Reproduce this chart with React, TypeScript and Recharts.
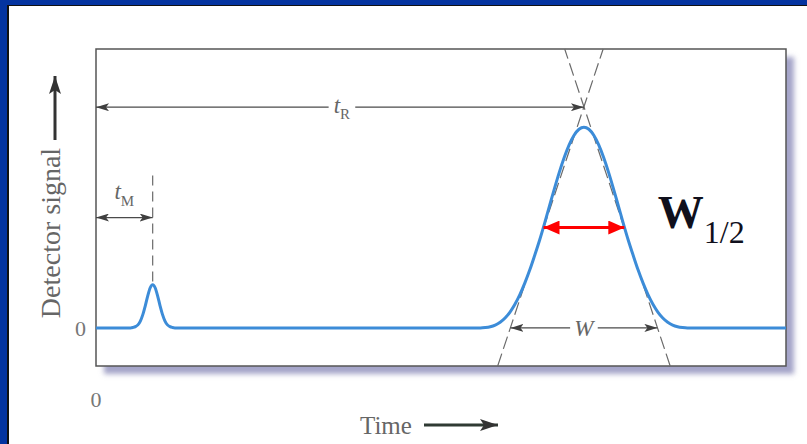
import { ComposedChart, Line, XAxis, YAxis, ReferenceLine, ReferenceDot, ReferenceArea } from 'recharts'

const serif = '"Liberation Serif", "Times New Roman", serif'

// detector trace: time (min) against signal (% of main peak)
const times = [
  0, 0.7, 0.75, 0.8, 0.85, 0.9, 0.95, 1.0, 1.05, 1.1, 1.15, 1.2, 1.25, 1.3, 1.35, 1.4, 1.45, 1.5, 1.55, 1.6,
  7.8, 7.9, 8.0, 8.1, 8.2, 8.3, 8.4, 8.5, 8.6, 8.7, 8.8, 8.9, 9.0, 9.1, 9.2, 9.3, 9.4, 9.5, 9.6, 9.7, 9.8, 9.9,
  10.0, 10.1, 10.2, 10.3, 10.4, 10.5, 10.6, 10.7, 10.8, 10.9, 11.0, 11.1, 11.2, 11.3, 11.4, 11.5, 11.6, 11.7, 11.8, 11.9, 12.0, 14,
]
const signal = [
  0, 0, 0.2, 0.6, 1.5, 3.4, 6.6, 11.0, 16.0, 20.0, 21.5, 20.0, 16.0, 11.0, 6.6, 3.4, 1.5, 0.6, 0.2, 0,
  0, 0.2, 0.6, 1.4, 2.8, 4.9, 7.9, 11.8, 16.6, 22.3, 28.8, 36.1, 43.7, 52.0, 60.7, 69.3, 77.5, 84.9, 91.2, 96.0, 99.0, 100,
  99.0, 96.0, 91.2, 84.9, 77.5, 69.3, 60.7, 52.0, 43.7, 36.1, 28.8, 22.3, 16.6, 11.8, 7.9, 4.9, 2.8, 1.4, 0.6, 0.2, 0, 0,
]
const trace = times.map((t, i) => ({ t, s: signal[i] }))

const timeDomain = [0, 14]
const signalDomain = [-19, 139]
const timeTicks = [0]
const signalTicks = [0]

// dead time and retention time
const tM = 1.15
const tMPeak = 21.5
const tMLevel = 55
const tMGuideTop = 76
const tR = 9.9
const tRLevel = 110
const tRGap = [4.72, 5.26]

// half-height width of the main peak
const halfHeight = 50
const halfWidth = [9.08, 10.72]

// tangents through the inflection points, and the base width they cut off
const tangentA = [{ x: 8.15, y: -19 }, { x: 10.29, y: 139 }]
const tangentB = [{ x: 11.65, y: -19 }, { x: 9.51, y: 139 }]
const baseWidth = [8.41, 11.39]
const baseGap = [9.62, 10.18]

const grey = '#4a4a4a'

const arrow = (start: string | undefined, end: string | undefined, color: string, width: number) =>
  (p: any) => (
    <line
      x1={p.x1}
      y1={p.y1}
      x2={p.x2}
      y2={p.y2}
      stroke={color}
      strokeWidth={width}
      markerStart={start ? `url(#${start})` : undefined}
      markerEnd={end ? `url(#${end})` : undefined}
    />
  )

const TRLabel = ({ cx, cy }: any) => (
  <text x={cx} y={cy + 6} textAnchor="middle" fontFamily={serif} fill="#666">
    <tspan fontStyle="italic" fontSize={23}>t</tspan>
    <tspan fontSize={15} dy={6}>R</tspan>
  </text>
)

const TMLabel = ({ cx, cy }: any) => (
  <text x={cx} y={cy - 19} textAnchor="middle" fontFamily={serif} fill="#666">
    <tspan fontStyle="italic" fontSize={23}>t</tspan>
    <tspan fontSize={15} dy={7}>M</tspan>
  </text>
)

const WLabel = ({ cx, cy }: any) => (
  <text x={cx} y={cy + 8} textAnchor="middle" fontFamily={serif} fontStyle="italic" fontSize={23} fill="#666">
    W
  </text>
)

const HalfWidthLabel = ({ cx, cy }: any) => (
  <text x={cx} y={cy} fontFamily={serif} fill="#10101c">
    <tspan fontWeight="bold" fontSize={46}>W</tspan>
    <tspan fontSize={32} dy={15}>1/2</tspan>
  </text>
)

const SignalLabel = () => (
  <g>
    <text
      transform="translate(60,233) rotate(-90)"
      textAnchor="middle"
      fontFamily={serif}
      fontSize={28}
      fill="#666"
    >
      Detector signal
    </text>
    <line x1={55} y1={140} x2={55} y2={76} stroke="#333" strokeWidth={3} markerEnd="url(#headDark)" />
  </g>
)

const TimeLabel = () => (
  <g>
    <text x={360} y={434} fontFamily={serif} fontSize={25} fill="#666">
      Time
    </text>
    <line x1={424} y1={425} x2={498} y2={425} stroke="#2f3a33" strokeWidth={3} markerEnd="url(#headDark)" />
  </g>
)

export default function App() {
  return (
    <div style={{ position: 'absolute', left: 0, top: 0, width: 807, height: 444, background: '#0434a0', overflow: 'hidden' }}>
      <div
        style={{
          position: 'absolute',
          left: 7,
          top: 5,
          right: 0,
          bottom: 0,
          background: '#fff',
          borderLeft: '2px solid #111',
          borderTop: '1px solid #111',
        }}
      />
      <div
        style={{
          position: 'absolute',
          left: 96,
          top: 49,
          width: 690,
          height: 317,
          background: '#fff',
          boxShadow: '8px 8px 5px rgba(105,105,165,0.6)',
        }}
      />
      <svg width={0} height={0} style={{ position: 'absolute' }}>
        <defs>
          <marker id="headGrey" viewBox="0 0 13 8" refX={13} refY={4} markerWidth={13} markerHeight={8} markerUnits="userSpaceOnUse" orient="auto-start-reverse">
            <path d="M0,0 L13,4 L0,8 L3,4 z" fill="#3f3f3f" />
          </marker>
          <marker id="headRed" viewBox="0 0 16 14" refX={16} refY={7} markerWidth={16} markerHeight={14} markerUnits="userSpaceOnUse" orient="auto-start-reverse">
            <path d="M0,0 L16,7 L0,14 z" fill="#ff0000" />
          </marker>
          <marker id="headDark" viewBox="0 0 18 12" refX={18} refY={6} markerWidth={18} markerHeight={12} markerUnits="userSpaceOnUse" orient="auto-start-reverse">
            <path d="M0,0 L18,6 L0,12 L4,6 z" fill="#333" />
          </marker>
        </defs>
      </svg>
      <div style={{ position: 'absolute', left: 0, top: 0 }}>
        <ComposedChart width={807} height={444} data={trace} margin={{ top: 49, right: 21, bottom: 18, left: 0 }}>
          <XAxis
            type="number"
            dataKey="t"
            domain={timeDomain}
            ticks={timeTicks}
            allowDataOverflow
            height={60}
            axisLine={false}
            tickLine={false}
            tickSize={0}
            tickMargin={25}
            tick={{ fontSize: 22, fill: '#777', fontFamily: serif }}
            label={TimeLabel}
          />
          <YAxis
            type="number"
            domain={signalDomain}
            ticks={signalTicks}
            allowDataOverflow
            width={96}
            axisLine={false}
            tickLine={false}
            tickSize={0}
            tickMargin={10}
            tick={{ fontSize: 22, fill: '#777', fontFamily: serif }}
            label={SignalLabel}
          />
          <ReferenceArea
            x1={timeDomain[0]}
            x2={timeDomain[1]}
            y1={signalDomain[0]}
            y2={signalDomain[1]}
            fillOpacity={0}
            stroke="#555"
            strokeWidth={1.5}
          />

          <ReferenceLine segment={tangentA} stroke="#6a6a6a" strokeWidth={1.2} strokeDasharray="13 5" />
          <ReferenceLine segment={tangentB} stroke="#6a6a6a" strokeWidth={1.2} strokeDasharray="13 5" />
          <ReferenceLine
            segment={[{ x: tM, y: tMGuideTop }, { x: tM, y: tMPeak }]}
            stroke="#6a6a6a"
            strokeWidth={1.2}
            strokeDasharray="10 6"
          />

          <Line
            type="monotone"
            dataKey="s"
            stroke="#3c8cd8"
            strokeWidth={3}
            dot={false}
            isAnimationActive={false}
          />

          {/* t_R arrow, split around its label */}
          <ReferenceLine segment={[{ x: 0, y: tRLevel }, { x: tRGap[0], y: tRLevel }]} shape={arrow('headGrey', undefined, grey, 1.3)} />
          <ReferenceLine segment={[{ x: tRGap[1], y: tRLevel }, { x: tR, y: tRLevel }]} shape={arrow(undefined, 'headGrey', grey, 1.3)} />
          <ReferenceDot x={(tRGap[0] + tRGap[1]) / 2} y={tRLevel} r={1} shape={TRLabel} />

          {/* t_M arrow */}
          <ReferenceLine segment={[{ x: 0, y: tMLevel }, { x: tM, y: tMLevel }]} shape={arrow('headGrey', 'headGrey', grey, 1.3)} />
          <ReferenceDot x={tM / 2} y={tMLevel} r={1} shape={TMLabel} />

          {/* base width W */}
          <ReferenceLine segment={[{ x: baseWidth[0], y: 0 }, { x: baseGap[0], y: 0 }]} shape={arrow('headGrey', undefined, grey, 1.3)} />
          <ReferenceLine segment={[{ x: baseGap[1], y: 0 }, { x: baseWidth[1], y: 0 }]} shape={arrow(undefined, 'headGrey', grey, 1.3)} />
          <ReferenceDot x={tR} y={0} r={1} shape={WLabel} />

          {/* width at half height */}
          <ReferenceLine
            segment={[{ x: halfWidth[0], y: halfHeight }, { x: halfWidth[1], y: halfHeight }]}
            shape={arrow('headRed', 'headRed', '#ff0000', 3)}
          />
          <ReferenceDot x={11.4} y={halfHeight} r={1} shape={HalfWidthLabel} />
        </ComposedChart>
      </div>
    </div>
  )
}
